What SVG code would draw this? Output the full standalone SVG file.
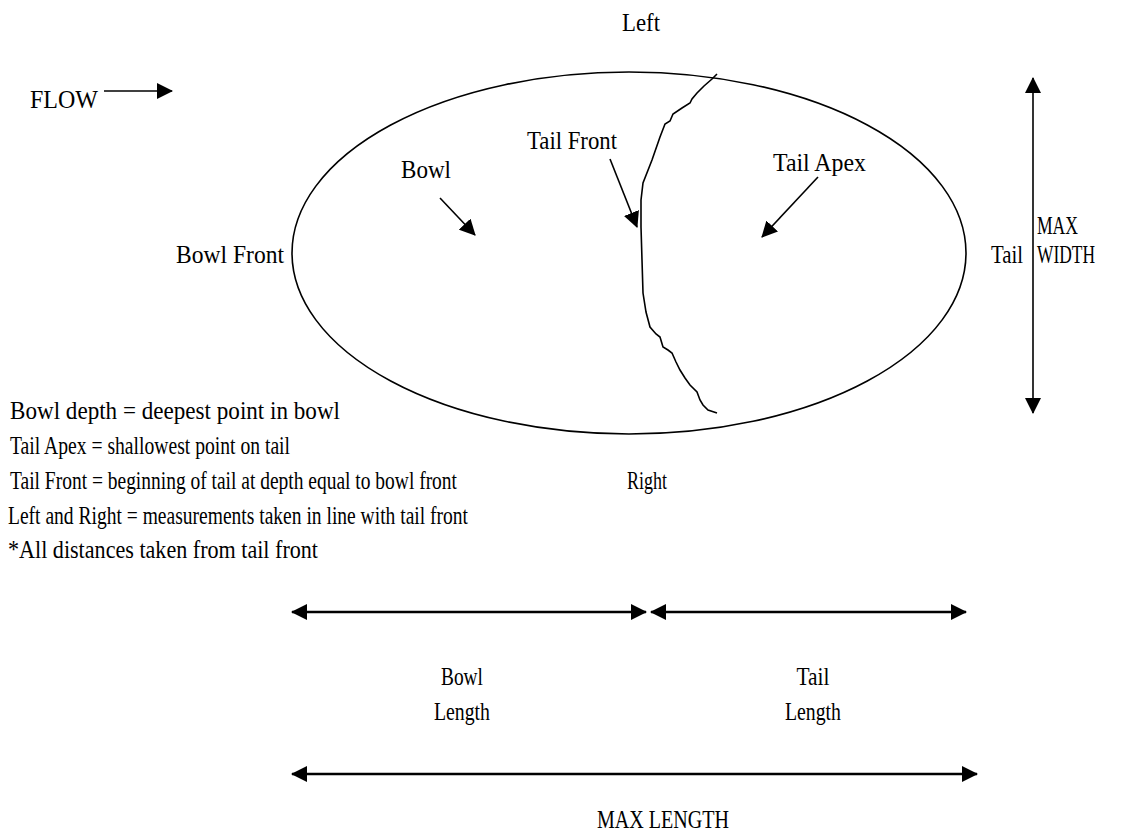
<svg xmlns="http://www.w3.org/2000/svg" width="1126" height="835" viewBox="0 0 1126 835">
<defs>
<style>
text{font-family:"Liberation Serif","Times New Roman",serif;font-size:26px;fill:#000}
.ln{stroke:#000;stroke-width:1.6;fill:none}
.dim{stroke:#000;stroke-width:2.4;fill:none}
</style>
<marker id="ah" viewBox="0 0 16 16" refX="15" refY="8" markerWidth="16" markerHeight="16" markerUnits="userSpaceOnUse" orient="auto-start-reverse">
<path d="M0,0 L16,8 L0,16 Z" fill="#000"/>
</marker>
</defs>
<rect width="1126" height="835" fill="#fff"/>
<g id="shape">
<ellipse cx="629" cy="253" rx="337" ry="181" class="ln"/>
<path class="ln" d="M717,74 L712,79 L704,86 L697,93 L692,99 L690,103 L682,108 L673,114 L670,121 L665,124 L660,137 L652,160 L643,183 L641,200 L641,227 L642,260 L643,293 L646,312 L650,327 L656,334 L660,337 L663,347 L668,350 L672,353 L676,362 L680,370 L685,378 L690,385 L697,392 L700,400 L703,405 L708,410 L717,413"/>
</g>
<g id="labels">
<text x="622" y="31" textLength="38" lengthAdjust="spacingAndGlyphs">Left</text>
<text x="30" y="108" textLength="68" lengthAdjust="spacingAndGlyphs">FLOW</text>
<text x="527" y="149" textLength="90" lengthAdjust="spacingAndGlyphs">Tail Front</text>
<text x="401" y="178" textLength="50" lengthAdjust="spacingAndGlyphs">Bowl</text>
<text x="773" y="171" textLength="93" lengthAdjust="spacingAndGlyphs">Tail Apex</text>
<text x="176" y="263" textLength="108" lengthAdjust="spacingAndGlyphs">Bowl Front</text>
<text x="991" y="263" textLength="32" lengthAdjust="spacingAndGlyphs">Tail</text>
<text x="1037" y="234" textLength="41" lengthAdjust="spacingAndGlyphs">MAX</text>
<text x="1037" y="263" textLength="58" lengthAdjust="spacingAndGlyphs">WIDTH</text>
<text x="627" y="489" textLength="40" lengthAdjust="spacingAndGlyphs">Right</text>
</g>
<g id="legend">
<text x="10" y="419" textLength="330" lengthAdjust="spacingAndGlyphs">Bowl depth = deepest point in bowl</text>
<text x="10" y="454" textLength="280" lengthAdjust="spacingAndGlyphs">Tail Apex = shallowest point on tail</text>
<text x="10" y="489" textLength="447" lengthAdjust="spacingAndGlyphs">Tail Front = beginning of tail at depth equal to bowl front</text>
<text x="8" y="524" textLength="460" lengthAdjust="spacingAndGlyphs">Left and Right = measurements taken in line with tail front</text>
<text x="8" y="558" textLength="310" lengthAdjust="spacingAndGlyphs">*All distances taken from tail front</text>
</g>
<g id="dimension-labels">
<text x="462" y="685" text-anchor="middle" textLength="42" lengthAdjust="spacingAndGlyphs">Bowl</text>
<text x="462" y="720" text-anchor="middle" textLength="56" lengthAdjust="spacingAndGlyphs">Length</text>
<text x="813" y="685" text-anchor="middle" textLength="33" lengthAdjust="spacingAndGlyphs">Tail</text>
<text x="813" y="720" text-anchor="middle" textLength="56" lengthAdjust="spacingAndGlyphs">Length</text>
<text x="597" y="828" textLength="132" lengthAdjust="spacingAndGlyphs">MAX LENGTH</text>
</g>
<g id="connectors">
<line class="ln" x1="104" y1="91" x2="172" y2="91" marker-end="url(#ah)"/>
<line class="ln" x1="440" y1="198" x2="475" y2="235" marker-end="url(#ah)"/>
<line class="ln" x1="610" y1="159" x2="637" y2="227" marker-end="url(#ah)"/>
<line class="ln" x1="818" y1="177" x2="762" y2="237" marker-end="url(#ah)"/>
<line class="ln" x1="1033" y1="78" x2="1033" y2="413" marker-start="url(#ah)" marker-end="url(#ah)"/>
<line class="dim" x1="292" y1="612" x2="646" y2="612" marker-start="url(#ah)" marker-end="url(#ah)"/>
<line class="dim" x1="651" y1="612" x2="966" y2="612" marker-start="url(#ah)" marker-end="url(#ah)"/>
<line class="dim" x1="292" y1="774" x2="977" y2="774" marker-start="url(#ah)" marker-end="url(#ah)"/>
</g>
</svg>
